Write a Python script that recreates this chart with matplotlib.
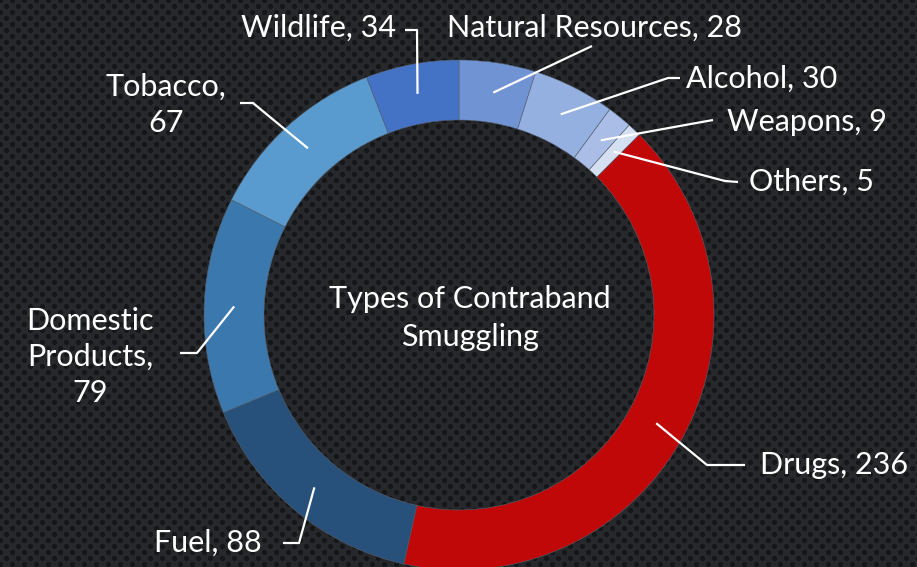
import matplotlib
matplotlib.use("Agg")
import matplotlib.pyplot as plt
import numpy as np

# data, clockwise from 12 o'clock
labels = ["Natural Resources", "Alcohol", "Weapons", "Others", "Drugs",
          "Fuel", "Domestic\nProducts", "Tobacco", "Wildlife"]
values = [28, 30, 9, 5, 236, 88, 79, 67, 34]
colors = ["#6f93d3", "#93b0e0", "#a9bde6", "#d4e0f1", "#c00808",
          "#27507a", "#3a78ae", "#5a9bcf", "#4472c4"]
title = "Types of Contraband\nSmuggling"

W, H = 917, 567
fig = plt.figure(figsize=(W / 100, H / 100), dpi=100)
ax = fig.add_axes([0, 0, 1, 1])

# perforated dark background
yy, xx = np.mgrid[0:H, 0:W]
bg = np.ones((H, W)) * 0.155
for ox, oy in [(0, 0), (6, 6)]:
    dx = (xx - ox) % 12 - 6
    dy = (yy - oy) % 12 - 6
    bg[dx ** 2 + dy ** 2 < 6] = 0.085
img = np.dstack([bg * 1.0, bg * 1.03, bg * 1.1])
ax.imshow(np.clip(img, 0, 1), extent=(0, W, 0, H), zorder=0)

cx, cy, R, ring = 459, H - 315, 255, 60
wedges, _ = ax.pie(values, colors=colors, startangle=90, counterclock=False,
                   center=(cx, cy), radius=R,
                   wedgeprops=dict(width=ring, edgecolor="#55606e", linewidth=0.4))
for w in wedges:
    w.set_zorder(2)

fs = 22
ax.text(cx + 11, cy - 3, title, ha="center", va="center", color="white",
        fontsize=fs, family="Lato", linespacing=1.4, zorder=5)

# label layout: text position (px), alignment, elbow points (px)
layout = {
    "Natural Resources": ((447, 28), "left", [(592, 46)]),
    "Alcohol": ((686, 79), "left", [(668, 78), (680, 78)]),
    "Weapons": ((727, 122), "left", [(713, 120)]),
    "Others": ((749, 182), "left", [(725, 181), (738, 182)]),
    "Drugs": ((760, 465), "left", [(707, 465), (745, 465)]),
    "Fuel": ((262, 543), "right", [(299, 543), (283, 543)]),
    "Domestic\nProducts": ((90, 357), "center", [(197, 353), (180, 353)]),
    "Tobacco": ((166, 105), "center", [(253, 103), (240, 103)]),
    "Wildlife": ((396, 28), "right", [(417, 30), (405, 30)]),
}

total = sum(values)
start = 0.0
for lab, val in zip(labels, values):
    mid = (start + val / 2) / total * 2 * np.pi
    start += val
    r = R - ring / 2
    px = cx + r * np.sin(mid)
    py = cy + r * np.cos(mid)
    (tx, ty), ha, pts = layout[lab]
    xs = [px] + [p[0] for p in pts]
    ys = [py] + [H - p[1] for p in pts]
    ax.plot(xs, ys, color="white", lw=1.6, zorder=4, solid_capstyle="butt")
    ax.text(tx, H - ty, f"{lab}, {val}" if lab not in ("Tobacco", "Domestic\nProducts")
            else f"{lab},\n{val}",
            ha=ha, va="center", color="white", fontsize=fs, family="Lato",
            linespacing=1.35, zorder=5)

ax.set_xlim(0, W)
ax.set_ylim(0, H)
ax.set_aspect("equal")
ax.axis("off")
fig.savefig("out.png", dpi=100)
